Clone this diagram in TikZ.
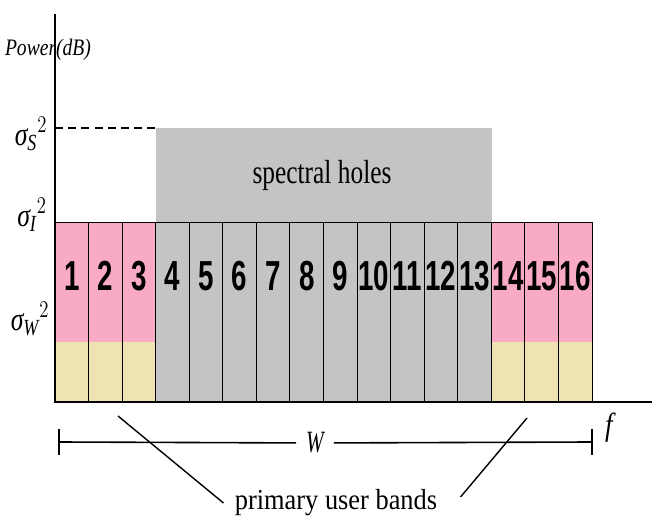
\documentclass[tikz,border=0pt]{standalone}
\usepackage{amsmath}
\usepackage{graphicx}
\usepackage{fontspec}
\setmainfont{Liberation Serif}
\newfontfamily\numfont{Liberation Sans}
\usepackage{tikz}

\definecolor{pubpink}{RGB}{249,170,197}
\definecolor{pubsand}{RGB}{238,227,178}
\definecolor{holegray}{RGB}{196,196,196}

% squeeze text sideways
\newcommand{\narrow}[2]{\scalebox{#1}[1]{#2}}
\newcommand{\powlvl}[1]{\narrow{0.78}{${\textit{σ}_{\textit{#1}}}^{2}$}}

\begin{document}
\begin{tikzpicture}[x=0.5pt,y=-0.5pt,
    bandline/.style={black,line width=0.5pt},
    axis/.style={black,line width=1pt},
    num/.style={font=\numfont\bfseries\fontsize{21}{22}\selectfont,inner sep=0pt},
    lvl/.style={font=\fontsize{16.5}{18}\selectfont,inner sep=0pt},
    lbl/.style={inner sep=0pt}]
    \useasboundingbox (0,0) rectangle (652,522);

    % colour blocks
    \fill [pubpink] (55,223) rectangle (156,342);
    \fill [pubsand] (55,342) rectangle (156,402);
    \fill [holegray] (156,128) rectangle (492,402);
    \fill [pubpink] (492,223) rectangle (592,342);
    \fill [pubsand] (492,342) rectangle (592,402);

    % band edges
    \draw [bandline] (55,223) -- (592,223) -- (592,402);
    \foreach \i in {1,...,15}
        \draw [bandline] ({55+\i*33.5625},223) -- ++(0,179);
    \foreach \i in {1,...,16}
        \node [num] (n\i) at ({55+(\i-0.5)*33.5625},276) {\narrow{0.66}{\i}};

    % axes
    \draw [axis] (55,14) -- (55,402) -- (652,402);
    \draw [black,line width=0.6pt,dash pattern=on 4pt off 2.6pt] (55,128) -- (156,128);

    \node [lbl,font=\itshape\fontsize{11.8}{13}\selectfont] (power) at (48,50) {\narrow{0.83}{Power(dB)}};
    \node [lvl] (sigS) at (31,134) {\powlvl{S}};
    \node [lvl] (sigI) at (32,215) {\powlvl{I}};
    \node [lvl] (sigW) at (30,319) {\powlvl{W}};
    \node [lbl,font=\fontsize{16.7}{18}\selectfont] (holes) at (322,175) {\narrow{0.76}{spectral holes}};
    \node [lbl,font=\itshape\fontsize{16}{18}\selectfont] (freq) at (609,428) {\narrow{0.85}{f}};

    % bandwidth bar
    \coordinate (wl) at (59,442);
    \coordinate (wr) at (592,442);
    \node [font=\itshape\fontsize{15.5}{17}\selectfont,inner xsep=4.8pt] (bw) at (315,443) {\narrow{0.68}{W}};
    \draw [bandline,line width=0.8pt] (wl) -- (bw);
    \draw [bandline,line width=0.8pt] (bw) -- (wr);
    \draw [bandline,line width=0.8pt] (59,429) -- (59,455);
    \draw [bandline,line width=0.8pt] (592,429) -- (592,455);

    \node [font=\fontsize{14.5}{16}\selectfont,inner xsep=5.5pt,inner ysep=0pt] (pub) at (336,503) {\narrow{0.91}{primary user bands}};
    \coordinate (pl) at (118,416);
    \coordinate (pr) at (527,418);
    \draw [bandline,line width=0.7pt] (pl) -- (pub.west);
    \draw [bandline,line width=0.7pt] (pr) -- ([xshift=6pt,yshift=3pt]pub.east);
\end{tikzpicture}
\end{document}
